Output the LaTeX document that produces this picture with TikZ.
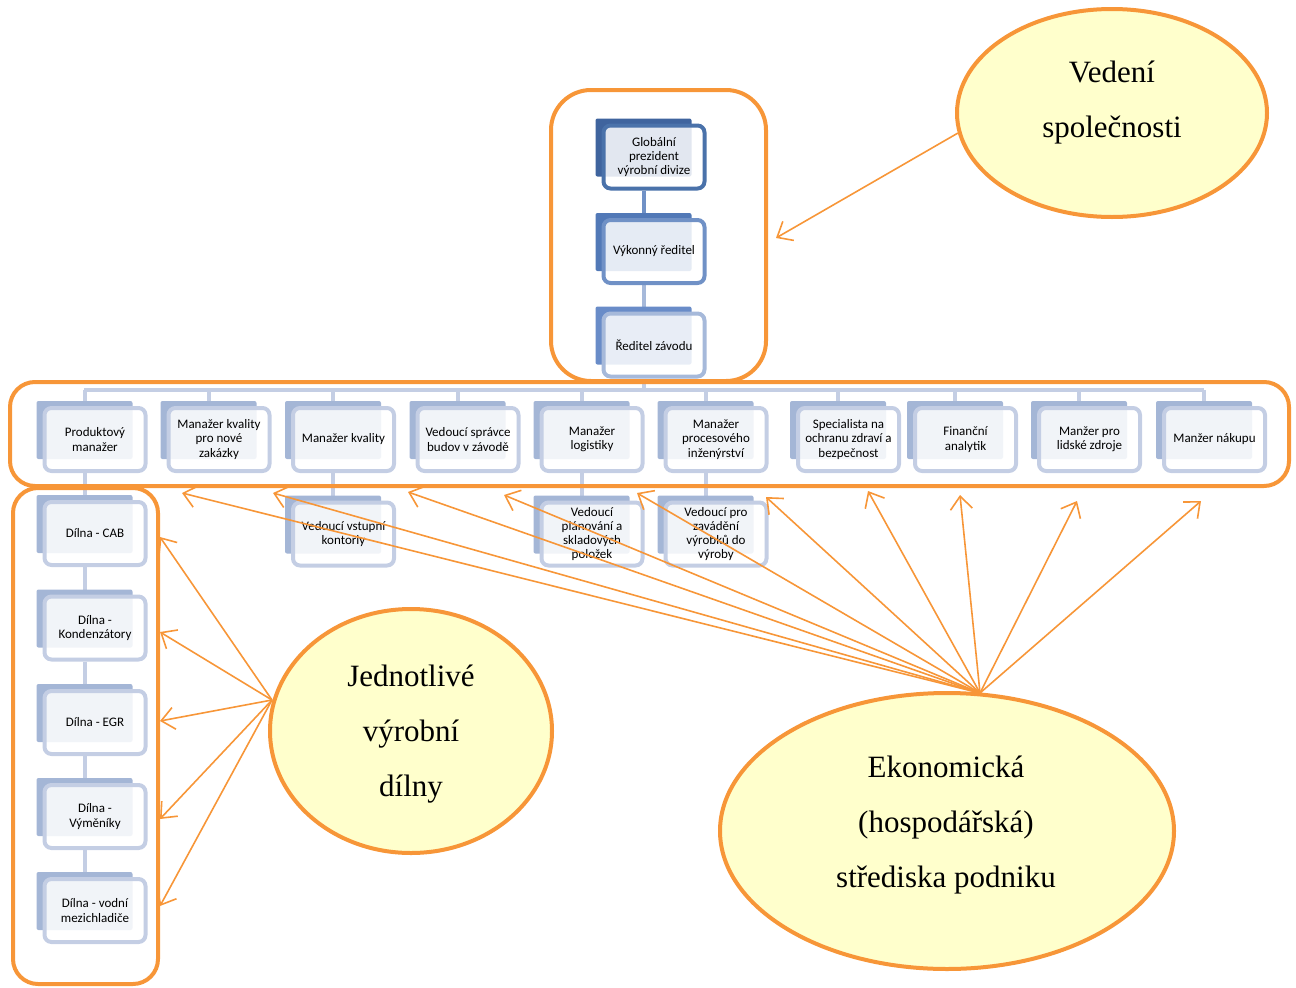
\documentclass[tikz,border=0pt]{standalone}
\usepackage{fontspec}
\setmainfont{Liberation Serif}
\newfontfamily\boxfont{Carlito}
\usetikzlibrary{arrows.meta,shapes.geometric}
\definecolor{org}{RGB}{247,150,56}
\definecolor{ellfill}{RGB}{255,255,204}
\definecolor{tAback}{RGB}{63,100,158}
\definecolor{tAbord}{RGB}{74,114,170}
\definecolor{tBback}{RGB}{82,121,183}
\definecolor{tBbord}{RGB}{112,145,198}
\definecolor{tCback}{RGB}{105,140,200}
\definecolor{tCbord}{RGB}{166,185,218}
\definecolor{rback}{RGB}{164,182,214}
\definecolor{rbord}{RGB}{196,206,228}
\pgfdeclarelayer{bg}
\pgfsetlayers{bg,main}
\tikzset{
  frontbox/.style={rectangle, rounded corners=7pt, line width=4pt, fill=white,
    fill opacity=0.85, text opacity=1, minimum width=101pt, minimum height=63pt,
    inner sep=0pt, font=\boxfont\fontsize{13}{14.3}\selectfont, align=center, text=black},
  conn/.style={line width=4pt},
  frame/.style={draw=org, line width=4pt},
  ell/.style={ellipse, draw=org, line width=4pt, fill=ellfill, inner sep=0pt},
  elltext/.style={font=\fontsize{31}{55}\selectfont, align=center, text=black},
  arr/.style={draw=org, line width=1.6pt, -{Straight Barb[length=13pt,width=22pt,line width=1.6pt]}}
}
\newcommand\smbox[6]{%
  \fill[#4, rounded corners=2pt] (#2-58.5,#3-38.5) rectangle (#2+37.5,#3+19.5);
  \node[frontbox, draw=#5] (#1) at (#2,#3) {#6};
}
\begin{document}
\begin{tikzpicture}[x=1pt,y=-1pt]
\useasboundingbox (0,0) rectangle (1296,988);
% orange frames
\draw[frame, rounded corners=40pt] (551,90) rectangle (766,381);
\draw[frame, rounded corners=25pt] (10,382) rectangle (1289,486);
\draw[frame, rounded corners=25pt] (13,488) rectangle (158,984);
% top boxes
\smbox{t1}{654}{157}{tAback}{tAbord}{Globální\\prezident\\výrobní divize}
\smbox{t2}{654}{251.5}{tBback}{tBbord}{Výkonný ředitel}
\smbox{t3}{654}{345}{tCback}{tCbord}{Ředitel závodu}
% row boxes
\smbox{r1}{95}{439.5}{rback}{rbord}{Produktový\\manažer}
\smbox{r2}{219}{439.5}{rback}{rbord}{Manažer kvality\\pro nové\\zakázky}
\smbox{r3}{343.5}{439.5}{rback}{rbord}{Manažer kvality}
\smbox{r4}{468}{439.5}{rback}{rbord}{Vedoucí správce\\budov v závodě}
\smbox{r5}{592}{439.5}{rback}{rbord}{Manažer\\logistiky}
\smbox{r6}{716}{439.5}{rback}{rbord}{Manažer\\procesového\\inženýrství}
\smbox{r7}{848.5}{439.5}{rback}{rbord}{Specialista na\\ochranu zdraví a\\bezpečnost}
\smbox{r8}{965.5}{439.5}{rback}{rbord}{Finanční\\analytik}
\smbox{r9}{1089.5}{439.5}{rback}{rbord}{Manžer pro\\lidské zdroje}
\smbox{r10}{1214.5}{439.5}{rback}{rbord}{Manžer nákupu}
% second level
\smbox{s3}{343.5}{534}{rback}{rbord}{Vedoucí vstupní\\kontorly}
\smbox{s5}{592}{534}{rback}{rbord}{Vedoucí\\plánování a\\skladových\\položek}
\smbox{s6}{716}{534}{rback}{rbord}{Vedoucí pro\\zavádění\\výrobků do\\výroby}
% left column
\smbox{d1}{95}{533.5}{rback}{rbord}{Dílna - CAB}
\smbox{d2}{95}{628}{rback}{rbord}{Dílna -\\Kondenzátory}
\smbox{d3}{95}{722.5}{rback}{rbord}{Dílna - EGR}
\smbox{d4}{95}{816.5}{rback}{rbord}{Dílna -\\Výměníky}
\smbox{d5}{95}{910.5}{rback}{rbord}{Dílna - vodní\\mezichladiče}
% connectors
\coordinate (busL) at (84,390);
\coordinate (busR) at (1204,390);
\begin{pgfonlayer}{bg}
\draw[conn, draw=tBbord] ([xshift=-10.5pt]t1.south) -- ([xshift=-10.5pt]t2.north);
\draw[conn, draw=tCbord] ([xshift=-10.5pt]t2.south) -- ([xshift=-10.5pt]t3.north);
\draw[conn, draw=rbord] ([xshift=-10.5pt]t3.south) -- ([xshift=-10.5pt]t3.south |- busL);
\draw[conn, draw=rbord] (busL) -- (busR);
\foreach \r in {r1,r2,r3,r4,r5,r6,r7,r8,r9,r10}{
  \draw[conn, draw=rbord] ([xshift=-10.5pt]\r.north) -- ([xshift=-10.5pt]\r.north |- busL);
}
\draw[conn, draw=rbord] ([xshift=-10.5pt]r1.south) -- ([xshift=-10.5pt]d1.north);
\draw[conn, draw=rbord] ([xshift=-10.5pt]d1.south) -- ([xshift=-10.5pt]d2.north);
\draw[conn, draw=rbord] ([xshift=-10.5pt]d2.south) -- ([xshift=-10.5pt]d3.north);
\draw[conn, draw=rbord] ([xshift=-10.5pt]d3.south) -- ([xshift=-10.5pt]d4.north);
\draw[conn, draw=rbord] ([xshift=-10.5pt]d4.south) -- ([xshift=-10.5pt]d5.north);
\draw[conn, draw=rbord] ([xshift=-10.5pt]r3.south) -- ([xshift=-10.5pt]s3.north);
\draw[conn, draw=rbord] ([xshift=-10.5pt]r5.south) -- ([xshift=-10.5pt]s5.north);
\draw[conn, draw=rbord] ([xshift=-10.5pt]r6.south) -- ([xshift=-10.5pt]s6.north);
\end{pgfonlayer}
% ellipses
\node[ell, minimum width=310pt, minimum height=208pt] (ved) at (1112,113) {};
\node[elltext] (vedt) at (1112,103) {Vedení\\společnosti};
\node[ell, minimum width=282pt, minimum height=244pt] (jed) at (411,731) {};
\node[elltext] (jedt) at (411,734) {Jednotlivé\\výrobní\\dílny};
\node[ell, minimum width=454pt, minimum height=276pt] (eko) at (947,831) {};
\node[elltext] (ekot) at (946,825) {Ekonomická\\(hospodářská)\\střediska podniku};
% arrows
\coordinate (vedA) at (958,133);
\coordinate (vedB) at (776,238);
\draw[arr] (vedA) -- (vedB);
\coordinate (ekA) at (980,693);
\foreach \i/\x/\y in {1/182/493,2/273/493,3/408/492,4/504/495,5/637/493,6/766/497,7/868/491,8/960/495,9/1077/501,10/1201/501}{
  \coordinate (ek\i) at (\x,\y);
  \draw[arr] (ekA) -- (ek\i);
}
\coordinate (jeA) at (272,700);
\foreach \i/\y in {1/537,2/632,3/721,4/819,5/906}{
  \coordinate (je\i) at (160,\y);
  \draw[arr] (jeA) -- (je\i);
}
\end{tikzpicture}
\end{document}
